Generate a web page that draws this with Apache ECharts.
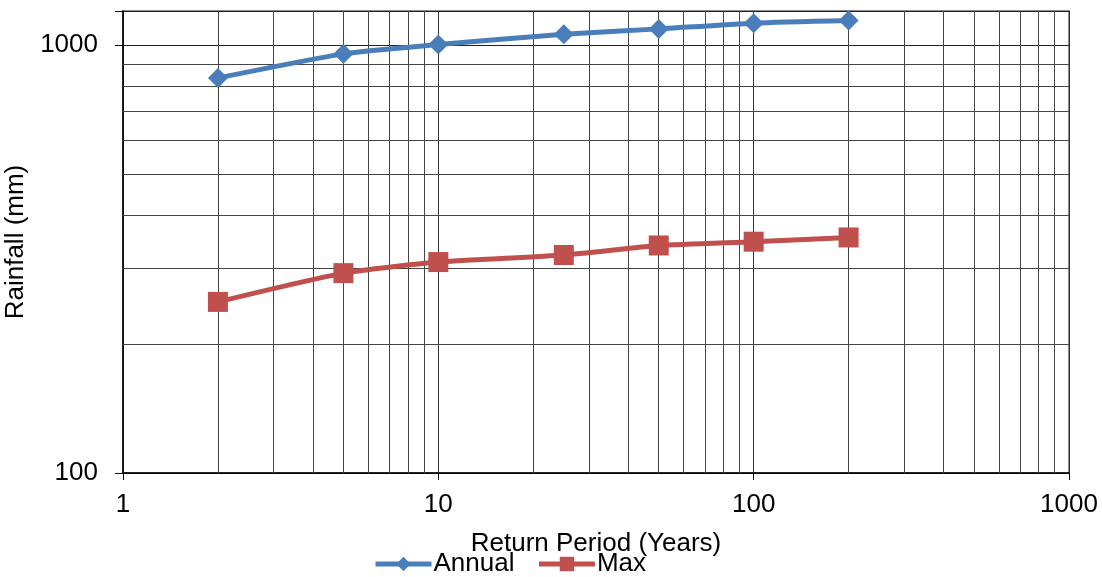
<!DOCTYPE html>
<html>
<head>
<meta charset="utf-8">
<script src="https://cdn.jsdelivr.net/npm/echarts@6/dist/echarts.min.js"></script>
<style>
  html, body { margin: 0; padding: 0; background: #fff; }
  #rainchart { width: 1102px; height: 577px; }
</style>
</head>
<body>
<div id="rainchart"></div>
<script>
// return periods (years)
var returnPeriods = [2, 5, 10, 25, 50, 100, 200];
var annualRain = [837, 953, 1002, 1059, 1090, 1124, 1140];
var maxRain = [251, 293, 311, 323, 340, 347, 355];

// minor grid lines of the log axes
var xMinorGrid = [2, 3, 4, 5, 6, 7, 8, 9, 20, 30, 40, 50, 60, 70, 80, 90, 200, 300, 400, 500, 600, 700, 800, 900];
var yMinorGrid = [200, 300, 400, 500, 600, 700, 800, 900];

var myChart = echarts.init(document.getElementById('rainchart'));

var gridLines = [];
for (var i = 0; i < xMinorGrid.length; i++) {
  gridLines.push({ xAxis: xMinorGrid[i] });
}
for (var i = 0; i < yMinorGrid.length; i++) {
  gridLines.push({ yAxis: yMinorGrid[i] });
}

function makeData(vals) {
  var out = [];
  for (var i = 0; i < returnPeriods.length; i++) {
    out.push([returnPeriods[i], vals[i]]);
  }
  return out;
}

// only label the decades, no thousands separator
function decadeLabel(v) {
  var l = Math.log(v) / Math.LN10;
  return Math.abs(l - Math.round(l)) < 1e-6 ? String(Math.round(v)) : '';
}

var fontName = '"Liberation Sans", Arial, sans-serif';

var option = {
  animation: false,
  textStyle: { fontFamily: fontName },
  grid: {
    left: 123,
    right: 33,
    top: 11,
    bottom: 104,
    outerBoundsMode: 'none',
    show: true,
    borderColor: '#8c8c8c',
    borderWidth: 2
  },
  legend: {
    left: 373,
    top: 551,
    padding: 0,
    itemWidth: 56,
    itemHeight: 18,
    itemGap: 22,
    lineStyle: { width: 5 },
    textStyle: { fontSize: 26, color: '#000', fontFamily: fontName, padding: [0, 0, 0, -3] },
    data: ['Annual', 'Max']
  },
  xAxis: {
    type: 'log',
    logBase: 10,
    min: 1,
    max: 1000,
    name: 'Return Period (Years)',
    nameLocation: 'middle',
    nameGap: 58,
    nameTextStyle: { fontSize: 26, color: '#000', fontFamily: fontName },
    axisLine: { lineStyle: { color: '#000', width: 1.5 } },
    axisTick: { show: true, length: 7, lineStyle: { color: '#000' } },
    axisLabel: { fontSize: 26, color: '#000', margin: 19, fontFamily: fontName, formatter: decadeLabel },
    splitLine: { show: true, lineStyle: { color: '#333', width: 1 } }
  },
  yAxis: {
    type: 'log',
    logBase: 10,
    min: 100,
    max: 1200,
    name: 'Rainfall (mm)',
    nameLocation: 'middle',
    nameGap: 85,
    nameTextStyle: { fontSize: 26, color: '#000', fontFamily: fontName },
    axisLine: { show: true, lineStyle: { color: '#000', width: 1.5 } },
    axisTick: { show: true, length: 8, lineStyle: { color: '#000' } },
    axisLabel: { fontSize: 26, color: '#000', margin: 25, fontFamily: fontName, formatter: decadeLabel },
    splitLine: { show: true, lineStyle: { color: '#222', width: 1 } }
  },
  series: [
    {
      name: 'Annual',
      type: 'line',
      smooth: 0.2,
      symbol: 'diamond',
      symbolSize: 20,
      z: 5,
      lineStyle: { color: '#4a7ebb', width: 5 },
      itemStyle: { color: '#4a7ebb' },
      data: makeData(annualRain),
      markLine: {
        silent: true,
        symbol: 'none',
        label: { show: false },
        lineStyle: { color: '#444', width: 1, type: 'solid' },
        z: 1,
        data: gridLines
      }
    },
    {
      name: 'Max',
      type: 'line',
      smooth: 0.2,
      symbol: 'rect',
      symbolSize: 20,
      z: 5,
      lineStyle: { color: '#c0504d', width: 5 },
      itemStyle: { color: '#c0504d' },
      data: makeData(maxRain)
    }
  ]
};
myChart.setOption(option);
window.onresize = myChart.resize;
</script>
</body>
</html>
